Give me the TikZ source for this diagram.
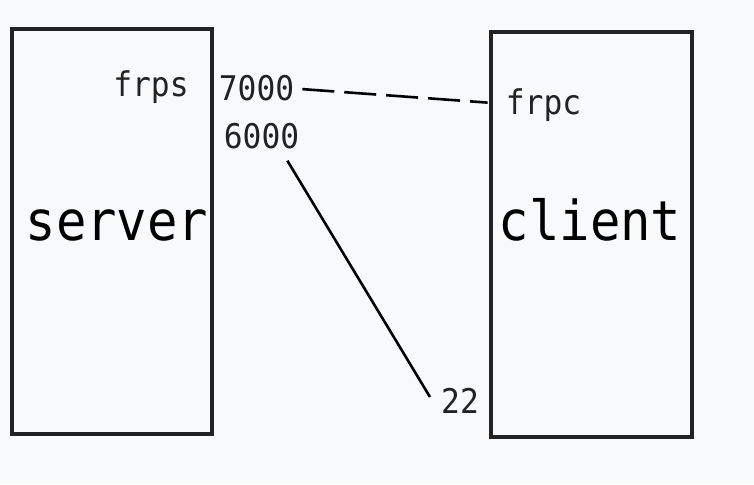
\documentclass[tikz,border=0pt]{standalone}
\usepackage{fontspec}
\newfontfamily\monofont[FakeStretch=0.92]{DejaVu Sans Mono}
\definecolor{bgc}{HTML}{F8F9FA}
\definecolor{inkc}{HTML}{222222}
\begin{document}
\begin{tikzpicture}[x=1pt,y=-1pt,
  box/.style={draw=inkc,line width=3.2pt,rectangle,inner sep=0pt},
  small/.style={inner sep=0pt,anchor=base,text=inkc,font=\monofont\fontsize{34}{36}\selectfont},
  big/.style={inner sep=0pt,anchor=base,text=black,font=\monofont\fontsize{55}{60}\selectfont},
  link/.style={draw=black,line width=2.6pt}]
\fill[bgc] (0,0) rectangle (754,484);
\useasboundingbox (0,0) rectangle (754,484);
\node[box,minimum width=200pt,minimum height=405pt] (server) at (112,231.5) {};
\node[box,minimum width=201pt,minimum height=405pt] (client) at (591.5,234.5) {};
\node[big] (serverlbl) at (117,240) {server};
\node[big] (clientlbl) at (590,240) {client};
\node[small] (frps) at (151,96) {frps};
\node[small] (p7000) at (256.5,100) {7000};
\node[small] (p6000) at (261.5,148) {6000};
\node[small] (frpc) at (543.5,114) {frpc};
\node[small] (n22) at (460,413) {22};
\draw[link,dash pattern=on 32pt off 10pt] ([xshift=8pt,yshift=-1.5pt]p7000.east) -- ([xshift=-18pt,yshift=2pt]frpc.west);
\draw[link] ([xshift=-12pt,yshift=-12pt]p6000.south east) -- ([xshift=-11pt,yshift=3.4pt]n22.west);
\end{tikzpicture}
\end{document}
